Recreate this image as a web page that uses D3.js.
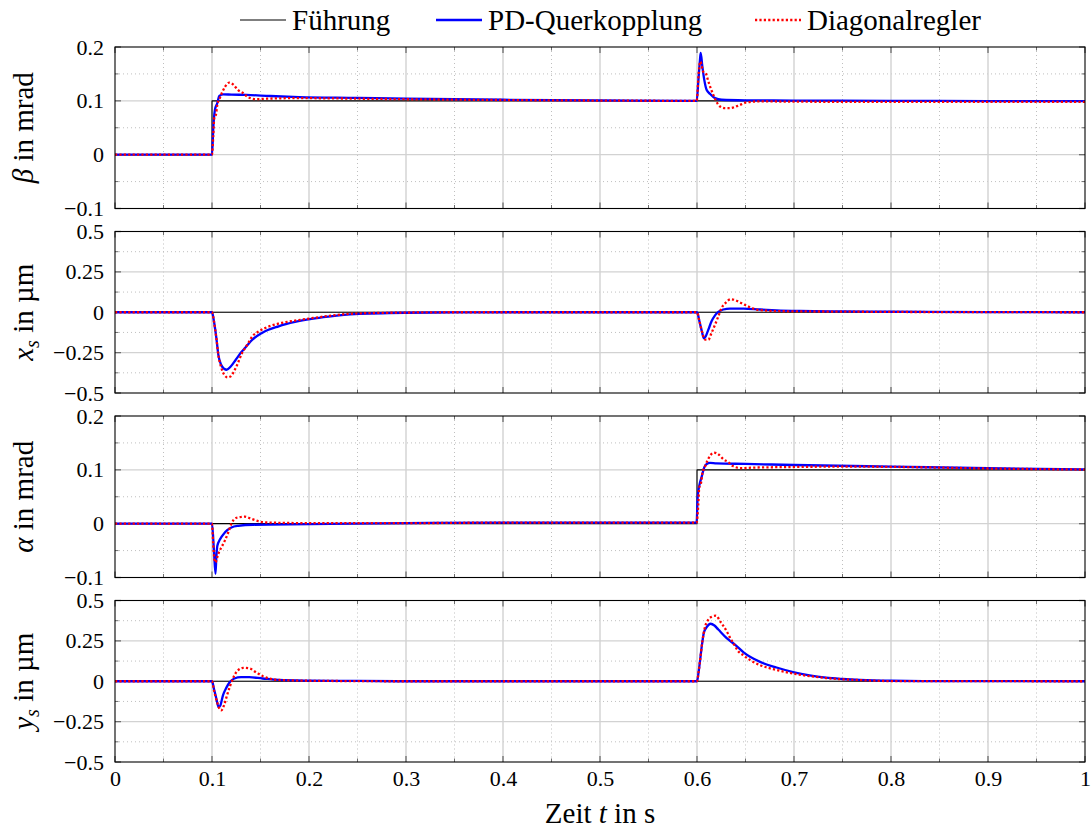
<!DOCTYPE html>
<html><head><meta charset="utf-8">
<script src="https://cdn.jsdelivr.net/npm/d3@7"></script>
<style>
body{margin:0;background:#fff}
</style></head><body><svg id="c" width="1091" height="830" style="font-family:'Liberation Serif','DejaVu Serif',serif"></svg>
<script>
// ---- data ----
const seriesNames = ["Führung", "PD-Querkopplung", "Diagonalregler"];
const xTicks = [0,0.1,0.2,0.3,0.4,0.5,0.6,0.7,0.8,0.9,1];
const xTickLabels = ["0","0.1","0.2","0.3","0.4","0.5","0.6","0.7","0.8","0.9","1"];
const xMinor = [0.05,0.15,0.25,0.35,0.45,0.55,0.65,0.75,0.85,0.95];

const mradTicks = [-0.1,0,0.1,0.2];
const mradTickLabels = ["−0.1","0","0.1","0.2"];
const mradMinor = [-0.05,0.05,0.15];
const umTicks = [-0.5,-0.25,0,0.25,0.5];
const umTickLabels = ["−0.5","−0.25","0","0.25","0.5"];
const umMinor = [-0.375,-0.125,0.125,0.375];

const yLabelSymbols = ["β","x","α","y"];
const yLabelSubs = ["","s","","s"];
const yLabelUnits = ["mrad","µm","mrad","µm"];

// [t, value]
const betaRef = [[0,0],[0.1,0],[0.1,0.1],[1,0.1]];
const betaPD = [[0,0],[0.1,0],[0.1014,0.052],[0.103,0.083],[0.1055,0.096],[0.1075,0.109],[0.1117,0.112],[0.12,0.1115],[0.1357,0.111],[0.16,0.109],[0.19,0.107],[0.25,0.1055],[0.3,0.104],[0.4,0.102],[0.5,0.101],[0.5997,0.1],[0.6015,0.14],[0.603,0.175],[0.6038,0.189],[0.6055,0.164],[0.6075,0.139],[0.61,0.12],[0.6134,0.113],[0.6186,0.105],[0.6254,0.102],[0.65,0.101],[0.7,0.1005],[0.8,0.1],[0.9,0.0995],[1,0.0993]];
const betaDiag = [[0,0],[0.1,0],[0.1013,0.034],[0.1023,0.068],[0.104,0.074],[0.1055,0.093],[0.108,0.105],[0.11,0.114],[0.1134,0.126],[0.118,0.134],[0.122,0.13],[0.127,0.12],[0.1325,0.114],[0.137,0.107],[0.146,0.103],[0.156,0.104],[0.187,0.105],[0.25,0.104],[0.3,0.103],[0.4,0.1015],[0.5,0.1005],[0.5997,0.1],[0.6017,0.151],[0.6034,0.173],[0.6065,0.154],[0.609,0.151],[0.6117,0.136],[0.614,0.124],[0.6168,0.111],[0.6196,0.1],[0.6237,0.0895],[0.629,0.0865],[0.634,0.0865],[0.642,0.0907],[0.651,0.097],[0.665,0.099],[0.7,0.0985],[0.8,0.098],[1,0.098]];

const xsRef = [[0,0],[1,0]];
const xsPD = [[0,0],[0.1,0],[0.102,-0.056],[0.1045,-0.16],[0.1065,-0.262],[0.1094,-0.325],[0.1126,-0.35],[0.115,-0.356],[0.1193,-0.336],[0.1245,-0.294],[0.1295,-0.252],[0.1347,-0.217],[0.1416,-0.17],[0.1515,-0.128],[0.1687,-0.087],[0.1856,-0.06],[0.2027,-0.041],[0.22,-0.027],[0.2474,-0.011],[0.3,-0.003],[0.35,-0.001],[0.4,0],[0.6,0],[0.6025,-0.056],[0.605,-0.118],[0.607,-0.16],[0.609,-0.149],[0.6117,-0.108],[0.615,-0.056],[0.6186,-0.019],[0.622,0.002],[0.627,0.017],[0.634,0.023],[0.648,0.023],[0.665,0.017],[0.682,0.012],[0.706,0.008],[0.75,0.005],[0.8,0.003],[0.9,0.001],[1,0]];
const xsDiag = [[0,0],[0.1,0],[0.102,-0.056],[0.1045,-0.16],[0.1065,-0.262],[0.1094,-0.34],[0.1126,-0.387],[0.116,-0.403],[0.1193,-0.397],[0.1227,-0.366],[0.126,-0.325],[0.131,-0.252],[0.1365,-0.2],[0.1416,-0.149],[0.1485,-0.118],[0.159,-0.087],[0.1687,-0.07],[0.1856,-0.052],[0.2027,-0.037],[0.22,-0.023],[0.2474,-0.008],[0.3,-0.002],[0.35,0],[0.6,0],[0.6025,-0.056],[0.6055,-0.128],[0.6086,-0.17],[0.6117,-0.17],[0.615,-0.128],[0.6186,-0.077],[0.622,-0.025],[0.6254,0.027],[0.6295,0.058],[0.6347,0.081],[0.639,0.076],[0.646,0.056],[0.653,0.035],[0.6615,0.017],[0.672,0.01],[0.692,0.006],[0.75,0.004],[0.8,0.002],[1,0]];

const alphaRef = [[0,0],[0.6,0],[0.6,0.1],[1,0.1]];
const alphaPD = [[0,0],[0.1,0],[0.102,-0.05],[0.1036,-0.093],[0.1045,-0.062],[0.1055,-0.041],[0.108,-0.03],[0.1134,-0.016],[0.12,-0.007],[0.127,-0.004],[0.1425,-0.002],[0.2,-0.001],[0.3,0.001],[0.4,0.002],[0.5,0.002],[0.5996,0.002],[0.6007,0.05],[0.6024,0.071],[0.6048,0.087],[0.6076,0.105],[0.61,0.111],[0.6134,0.113],[0.62,0.112],[0.65,0.111],[0.7,0.109],[0.8,0.106],[0.9,0.103],[1,0.101]];
const alphaDiag = [[0,0],[0.1,0],[0.1012,-0.037],[0.1024,-0.065],[0.1035,-0.072],[0.1055,-0.062],[0.1072,-0.053],[0.11,-0.043],[0.1134,-0.031],[0.1168,-0.016],[0.12,0],[0.1253,0.011],[0.134,0.013],[0.1405,0.009],[0.149,0.004],[0.159,0.002],[0.2,0.001],[0.3,0.001],[0.4,0.002],[0.5996,0.002],[0.6013,0.035],[0.6023,0.067],[0.604,0.074],[0.6055,0.093],[0.608,0.105],[0.61,0.114],[0.6134,0.126],[0.6175,0.132],[0.622,0.129],[0.627,0.12],[0.6325,0.114],[0.637,0.107],[0.646,0.103],[0.656,0.104],[0.687,0.105],[0.75,0.106],[0.8,0.1055],[0.9,0.1025],[1,0.1005]];

const ysRef = [[0,0],[1,0]];
const ysPD = [[0,0],[0.1,0],[0.102,-0.046],[0.1045,-0.108],[0.1068,-0.16],[0.1086,-0.15],[0.1113,-0.087],[0.1147,-0.041],[0.118,-0.008],[0.123,0.017],[0.13,0.025],[0.1385,0.025],[0.152,0.017],[0.169,0.008],[0.2,0.004],[0.25,0.002],[0.3,0],[0.6,0],[0.6015,0.05],[0.603,0.12],[0.605,0.22],[0.607,0.298],[0.61,0.335],[0.614,0.356],[0.618,0.345],[0.622,0.32],[0.6306,0.267],[0.64,0.222],[0.648,0.179],[0.665,0.12],[0.682,0.085],[0.699,0.057],[0.716,0.036],[0.733,0.022],[0.75,0.014],[0.768,0.008],[0.8,0.003],[0.85,0.001],[1,0]];
const ysDiag = [[0,0],[0.1,0],[0.102,-0.056],[0.1052,-0.128],[0.108,-0.174],[0.1096,-0.18],[0.1124,-0.149],[0.1155,-0.087],[0.1189,-0.025],[0.1223,0.027],[0.1268,0.068],[0.1326,0.083],[0.1388,0.079],[0.1457,0.054],[0.1525,0.031],[0.159,0.017],[0.169,0.008],[0.2,0.003],[0.3,0],[0.6,0],[0.6015,0.05],[0.603,0.12],[0.6056,0.25],[0.608,0.33],[0.6115,0.38],[0.6155,0.4],[0.6196,0.406],[0.624,0.37],[0.6306,0.31],[0.634,0.27],[0.638,0.23],[0.642,0.19],[0.648,0.16],[0.655,0.13],[0.665,0.1],[0.682,0.07],[0.699,0.048],[0.733,0.02],[0.768,0.007],[0.8,0.001],[1,0]];

// ---- layout ----
const FONT = "'Liberation Serif','DejaVu Serif',serif";
const svg = d3.select("#c");
svg.append("rect").attr("width",1091).attr("height",830).attr("fill","#fff");
const left = 115, plotW = 970, top0 = 47, step = 184.5, ph = 161.5;
const x = d3.scaleLinear().domain([0,1]).range([left, left+plotW]);

const panels = [
  {dom:[-0.1,0.2], ticks:mradTicks, labels:mradTickLabels, minor:mradMinor, ref:betaRef, pd:betaPD, diag:betaDiag},
  {dom:[-0.5,0.5], ticks:umTicks, labels:umTickLabels, minor:umMinor, ref:xsRef, pd:xsPD, diag:xsDiag},
  {dom:[-0.1,0.2], ticks:mradTicks, labels:mradTickLabels, minor:mradMinor, ref:alphaRef, pd:alphaPD, diag:alphaDiag},
  {dom:[-0.5,0.5], ticks:umTicks, labels:umTickLabels, minor:umMinor, ref:ysRef, pd:ysPD, diag:ysDiag}
];

const colors = ["#000000","#0000ff","#ff0000"];
const widths = [1.1, 2.3, 2.3];
const dashes = [null, null, "2.2,2.2"];

panels.forEach((p, i) => {
  const top = top0 + i*step, bot = top + ph;
  const y = d3.scaleLinear().domain(p.dom).range([bot, top]);
  const g = svg.append("g");
  const cid = "clip"+i;
  svg.append("clipPath").attr("id",cid).append("rect")
     .attr("x",left).attr("y",top).attr("width",plotW).attr("height",ph);

  g.selectAll(".mgx").data(xMinor).join("line")
    .attr("x1",d=>x(d)).attr("x2",d=>x(d)).attr("y1",top).attr("y2",bot)
    .attr("stroke","#b8b8b8").attr("stroke-width",0.9).attr("stroke-dasharray","1,3");
  g.selectAll(".mgy").data(p.minor).join("line")
    .attr("y1",d=>y(d)).attr("y2",d=>y(d)).attr("x1",left).attr("x2",left+plotW)
    .attr("stroke","#b8b8b8").attr("stroke-width",0.9).attr("stroke-dasharray","1,3");
  g.selectAll(".Mgx").data(xTicks.slice(1,-1)).join("line")
    .attr("x1",d=>x(d)).attr("x2",d=>x(d)).attr("y1",top).attr("y2",bot)
    .attr("stroke","#d2d2d2").attr("stroke-width",1.4);
  g.selectAll(".Mgy").data(p.ticks.slice(1,-1)).join("line")
    .attr("y1",d=>y(d)).attr("y2",d=>y(d)).attr("x1",left).attr("x2",left+plotW)
    .attr("stroke","#d2d2d2").attr("stroke-width",1.4);

  const tk = g.append("g").attr("stroke","#6e6e6e").attr("stroke-width",1.3);
  xTicks.forEach(d=>{
    tk.append("line").attr("x1",x(d)).attr("x2",x(d)).attr("y1",bot).attr("y2",bot-6);
    tk.append("line").attr("x1",x(d)).attr("x2",x(d)).attr("y1",top).attr("y2",top+6);
  });
  xMinor.forEach(d=>{
    tk.append("line").attr("x1",x(d)).attr("x2",x(d)).attr("y1",bot).attr("y2",bot-3.5).attr("stroke-width",1);
    tk.append("line").attr("x1",x(d)).attr("x2",x(d)).attr("y1",top).attr("y2",top+3.5).attr("stroke-width",1);
  });
  p.ticks.forEach(d=>{
    tk.append("line").attr("y1",y(d)).attr("y2",y(d)).attr("x1",left).attr("x2",left+6);
    tk.append("line").attr("y1",y(d)).attr("y2",y(d)).attr("x1",left+plotW).attr("x2",left+plotW-6);
  });
  p.minor.forEach(d=>{
    tk.append("line").attr("y1",y(d)).attr("y2",y(d)).attr("x1",left).attr("x2",left+3.5).attr("stroke-width",1);
    tk.append("line").attr("y1",y(d)).attr("y2",y(d)).attr("x1",left+plotW).attr("x2",left+plotW-3.5).attr("stroke-width",1);
  });

  const lineLin = d3.line().x(d=>x(d[0])).y(d=>y(d[1]));
  const lineSm = d3.line().x(d=>x(d[0])).y(d=>y(d[1])).curve(d3.curveMonotoneX);
  const lg = svg.append("g").attr("clip-path",`url(#${cid})`);
  [p.ref, p.pd, p.diag].forEach((s, k) => {
    lg.append("path").datum(s)
      .attr("d", k===0 ? lineLin : lineSm)
      .attr("fill","none").attr("stroke",colors[k]).attr("stroke-width",widths[k])
      .attr("stroke-dasharray",dashes[k]).attr("stroke-linejoin","round");
  });

  svg.append("rect").attr("x",left).attr("y",top).attr("width",plotW).attr("height",ph)
     .attr("fill","none").attr("stroke","#000").attr("stroke-width",1.1);

  const ya = svg.append("g").attr("transform",`translate(${left},0)`)
    .call(d3.axisLeft(y).tickValues(p.ticks).tickFormat((d,j)=>p.labels[j]).tickSize(0).tickPadding(11));
  ya.attr("font-family",FONT).attr("font-size",22);
  ya.select(".domain").remove();
  ya.selectAll("text").attr("fill","#000").style("font-family",FONT).style("font-size","22px");

  const t = svg.append("text").attr("transform",`translate(33,${(top+bot)/2}) rotate(-90)`)
    .attr("text-anchor","middle").style("font-family",FONT).style("font-size","29px");
  t.append("tspan").style("font-style","italic").text(yLabelSymbols[i]);
  if (yLabelSubs[i]) {
    t.append("tspan").style("font-style","italic").style("font-size","20px").attr("dy","6").text(yLabelSubs[i]);
    t.append("tspan").attr("dy","-6").text(" in " + yLabelUnits[i]);
  } else {
    t.append("tspan").text(" in " + yLabelUnits[i]);
  }

  if (i === panels.length-1) {
    const xa = svg.append("g").attr("transform",`translate(0,${bot})`)
      .call(d3.axisBottom(x).tickValues(xTicks).tickFormat((d,j)=>xTickLabels[j]).tickSize(0).tickPadding(8));
    xa.attr("font-family",FONT).attr("font-size",22);
    xa.select(".domain").remove();
    xa.selectAll("text").attr("fill","#000").style("font-family",FONT).style("font-size","22px");
  }
});

const xt = svg.append("text").attr("x",600).attr("y",823).attr("text-anchor","middle")
  .style("font-family",FONT).style("font-size","29px");
xt.append("tspan").text("Zeit ");
xt.append("tspan").style("font-style","italic").text("t");
xt.append("tspan").text(" in s");

const legX = [240, 436, 755];
const lgd = svg.append("g");
seriesNames.forEach((n,k)=>{
  lgd.append("line").attr("x1",legX[k]).attr("x2",legX[k]+46).attr("y1",20).attr("y2",20)
     .attr("stroke",colors[k]).attr("stroke-width",widths[k]).attr("stroke-dasharray",dashes[k]);
  lgd.append("text").attr("x",legX[k]+52).attr("y",30).style("font-family",FONT).style("font-size","29px").text(n);
});
</script></body></html>
